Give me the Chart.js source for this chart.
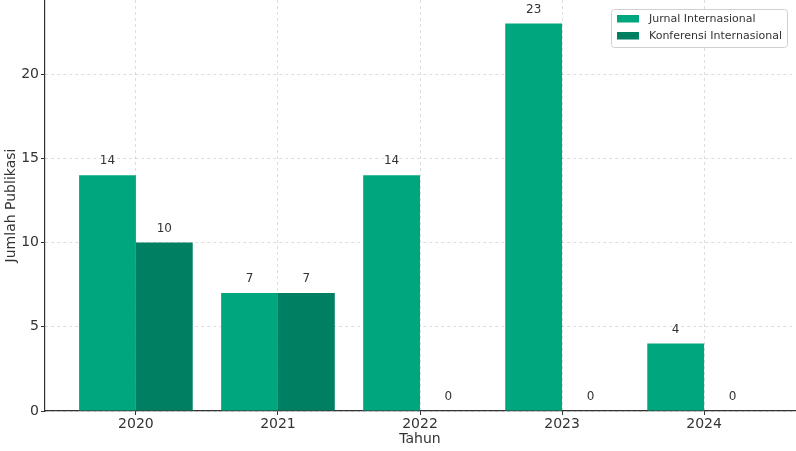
<!DOCTYPE html>
<html>
<head>
<meta charset="utf-8">
<script src="https://cdn.jsdelivr.net/npm/chart.js@4"></script>
<style>
  html, body { margin: 0; padding: 0; background: #fff; }
  #wrap { width: 796px; height: 451px; }
</style>
</head>
<body>
<div id="wrap"><canvas id="chart" width="796" height="451"></canvas></div>
<script>
const years = [2020, 2021, 2022, 2023, 2024];
const jurnal = [14, 7, 14, 23, 4];
const konferensi = [10, 7, 0, 0, 0];
const seriesNames = ["Jurnal Internasional", "Konferensi Internasional"];
const seriesColors = ["#00A67E", "#007F62"];
const yTicks = [0, 5, 10, 15, 20];

const FONT = "'DejaVu Sans', sans-serif";

// angka di atas setiap batang
const valueLabels = {
  id: 'valueLabels',
  afterDatasetsDraw(chart) {
    const ctx = chart.ctx;
    ctx.save();
    ctx.font = `12px ${FONT}`;
    ctx.fillStyle = '#333';
    ctx.textAlign = 'center';
    ctx.textBaseline = 'bottom';
    chart.data.datasets.forEach((ds, i) => {
      chart.getDatasetMeta(i).data.forEach((bar, j) => {
        ctx.fillText(String(ds.data[j].y), bar.x, bar.y - 8);
      });
    });
    ctx.restore();
  }
};

// legenda kotak di kanan atas
const boxLegend = {
  id: 'boxLegend',
  afterDraw(chart) {
    const ctx = chart.ctx;
    const x = 611, y = 9, w = 176, h = 38;
    ctx.save();
    ctx.beginPath();
    ctx.roundRect(x + 0.5, y + 0.5, w, h, 3);
    ctx.fillStyle = 'rgba(255,255,255,0.85)';
    ctx.fill();
    ctx.strokeStyle = '#d0d0d0';
    ctx.lineWidth = 1;
    ctx.stroke();
    ctx.font = `11px ${FONT}`;
    ctx.textBaseline = 'middle';
    chart.data.datasets.forEach((ds, i) => {
      const cy = y + 10 + i * 17;
      ctx.fillStyle = ds.backgroundColor;
      ctx.fillRect(x + 6, cy - 4, 22, 7.5);
      ctx.fillStyle = '#333';
      ctx.fillText(ds.label, x + 38, cy);
    });
    ctx.restore();
  }
};

const noPad = s => { s.paddingTop = 0; s.paddingBottom = 0; };

new Chart(document.getElementById('chart'), {
  type: 'bar',
  data: {
    datasets: [
      { label: seriesNames[0], data: years.map((yr, i) => ({ x: yr, y: jurnal[i] })), backgroundColor: seriesColors[0] },
      { label: seriesNames[1], data: years.map((yr, i) => ({ x: yr, y: konferensi[i] })), backgroundColor: seriesColors[1] }
    ]
  },
  options: {
    responsive: false,
    animation: false,
    devicePixelRatio: 1,
    layout: { padding: { top: 0, right: 1, left: 0, bottom: 0 } },
    datasets: { bar: { categoryPercentage: 0.8, barPercentage: 1.0, borderWidth: 0 } },
    scales: {
      x: {
        type: 'linear',
        min: 2019.36,
        max: 2024.64,
        offset: false,
        z: 1,
        afterBuildTicks: s => { s.ticks = years.map(v => ({ value: v })); },
        afterFit: s => { s.height = 40; },
        grid: {
          offset: false,
          color: 'rgba(0,0,0,0.13)',
          tickLength: 4,
          tickColor: '#333',
          tickBorderDash: []
        },
        border: { display: true, color: '#333', width: 1.2, dash: [3, 3] },
        ticks: {
          padding: 1,
          color: '#333',
          font: { family: FONT, size: 14 },
          callback: v => String(v)
        },
        title: { display: true, text: 'Tahun', color: '#333', font: { family: FONT, size: 14 }, padding: { top: 0, bottom: 3 } }
      },
      y: {
        min: 0,
        max: 24.4,
        z: 1,
        afterBuildTicks: s => { s.ticks = yTicks.map(v => ({ value: v })); },
        afterFit: s => { s.width = 45; noPad(s); },
        grid: {
          color: 'rgba(0,0,0,0.13)',
          tickLength: 4,
          tickColor: '#333',
          tickBorderDash: []
        },
        border: { display: true, color: '#333', width: 1.2, dash: [3, 3] },
        ticks: { padding: 2, color: '#333', font: { family: FONT, size: 14 } },
        title: { display: true, text: 'Jumlah Publikasi', color: '#333', font: { family: FONT, size: 14 }, padding: { top: 3, bottom: 4 } }
      }
    },
    plugins: {
      legend: { display: false },
      tooltip: { enabled: false }
    }
  },
  plugins: [valueLabels, boxLegend]
});
</script>
</body>
</html>
